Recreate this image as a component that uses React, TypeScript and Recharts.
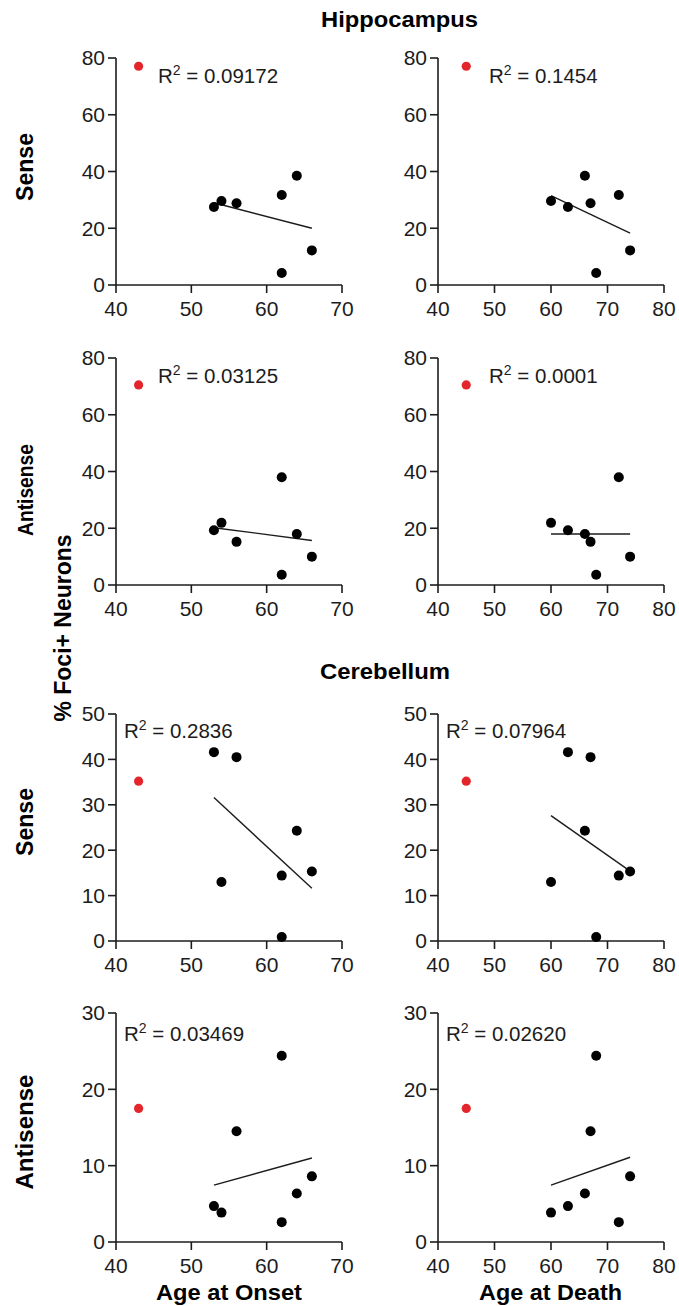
import { ScatterChart, Scatter, XAxis, YAxis, ReferenceLine } from "recharts"

const FONT = "'Liberation Sans', Arial, Helvetica, sans-serif"
const INK = "#1c1c1c"
const RED = "#e3262b"

// same seven patients, same order, in every panel
const onsetAge = [53, 54, 56, 62, 64, 66, 62]
const deathAge = [63, 60, 67, 72, 66, 74, 68]
// the excluded (red) patient
const outlierOnset = 43
const outlierDeath = 45

const hippoSense = [27.5, 29.6, 28.8, 31.7, 38.5, 12.2, 4.2]
const hippoAntisense = [19.3, 21.9, 15.2, 38.0, 18.0, 10.0, 3.6]
const cerebSense = [41.6, 13.0, 40.5, 14.4, 24.3, 15.3, 0.9]
const cerebAntisense = [4.7, 3.85, 14.5, 2.6, 6.35, 8.6, 24.4]
const outlierValues = [77.1, 70.5, 35.2, 17.5]

// regression line ends
const onsetFitX = [53, 66]
const deathFitX = [60, 74]
const onsetFitY = [[29.0, 20.0], [20.2, 15.7], [31.6, 11.6], [7.45, 11.0]]
const deathFitY = [[31.5, 18.3], [18.0, 18.0], [27.6, 15.4], [7.45, 11.1]]

const onsetR2 = ["0.09172", "0.03125", "0.2836", "0.03469"]
const deathR2 = ["0.1454", "0.0001", "0.07964", "0.02620"]

const onsetTicks = [40, 50, 60, 70]
const deathTicks = [40, 50, 60, 70, 80]
const rowYTicks = [
  [0, 20, 40, 60, 80],
  [0, 20, 40, 60, 80],
  [0, 10, 20, 30, 40, 50],
  [0, 10, 20, 30],
]

const rowValues = [hippoSense, hippoAntisense, cerebSense, cerebAntisense]

// layout (plot area boxes)
const rowTop = [58, 358, 714, 1013]
const rowHeight = [227, 227, 227, 229]
const colLeft = [116, 438]
const colWidth = 226
const r2Left = [[158, 124], [489, 446]]
const r2Base = [83, 383, 738, 1041]

const ML = 60
const MT = 20
const MR = 24
const XH = 44

const blackDot = (p: any) => <circle cx={p.cx} cy={p.cy} r={5} fill="#000" />
const redDot = (p: any) => <circle cx={p.cx} cy={p.cy} r={4.6} fill={RED} />

const tickStyle = { fill: INK, fontSize: 21, fontFamily: FONT }
const lineStyle = { stroke: INK, strokeWidth: 1.6 }

function Panel(props: {
  left: number
  top: number
  height: number
  xTicks: number[]
  yTicks: number[]
  points: { x: number; y: number }[]
  outlier: { x: number; y: number }[]
  fit: { x: number; y: number }[]
}) {
  const { left, top, height, xTicks, yTicks, points, outlier, fit } = props
  return (
    <div style={{ position: "absolute", left: left - ML, top: top - MT }}>
      <ScatterChart
        width={colWidth + ML + MR}
        height={height + MT + XH}
        margin={{ top: MT, right: MR, bottom: 0, left: 0 }}
      >
        <XAxis
          type="number"
          dataKey="x"
          domain={[xTicks[0], xTicks[xTicks.length - 1]]}
          ticks={xTicks}
          interval={0}
          height={XH}
          tick={tickStyle}
          tickLine={lineStyle}
          axisLine={lineStyle}
          tickSize={8}
          tickMargin={8}
        />
        <YAxis
          type="number"
          dataKey="y"
          domain={[0, yTicks[yTicks.length - 1]]}
          ticks={yTicks}
          interval={0}
          width={ML}
          tick={tickStyle}
          tickLine={lineStyle}
          axisLine={lineStyle}
          tickSize={8}
          tickMargin={3}
        />
        <ReferenceLine segment={fit} stroke={INK} strokeWidth={1.4} ifOverflow="visible" />
        <Scatter data={points} shape={blackDot} isAnimationActive={false} />
        <Scatter data={outlier} shape={redDot} isAnimationActive={false} />
      </ScatterChart>
    </div>
  )
}

function R2({ x, y, value }: { x: number; y: number; value: string }) {
  return (
    <text x={x} y={y} fontSize={20.5} fontFamily={FONT} fill={INK}>
      R
      <tspan fontSize={14} dy={-8}>2</tspan>
      <tspan dy={8}>{` = ${value}`}</tspan>
    </text>
  )
}

export default function App() {
  const panels = []
  for (let r = 0; r < 4; r++) {
    const vals = rowValues[r]
    for (let c = 0; c < 2; c++) {
      const ages = c === 0 ? onsetAge : deathAge
      const fx = c === 0 ? onsetFitX : deathFitX
      const fy = c === 0 ? onsetFitY[r] : deathFitY[r]
      panels.push(
        <Panel
          key={`${r}-${c}`}
          left={colLeft[c]}
          top={rowTop[r]}
          height={rowHeight[r]}
          xTicks={c === 0 ? onsetTicks : deathTicks}
          yTicks={rowYTicks[r]}
          points={ages.map((a, i) => ({ x: a, y: vals[i] }))}
          outlier={[{ x: c === 0 ? outlierOnset : outlierDeath, y: outlierValues[r] }]}
          fit={[{ x: fx[0], y: fy[0] }, { x: fx[1], y: fy[1] }]}
        />
      )
    }
  }

  const bold = { fontFamily: FONT, fontWeight: 700, fill: "#000" } as const

  return (
    <div
      style={{
        position: "absolute",
        left: 0,
        top: 0,
        width: 679,
        height: 1306,
        background: "#fff",
        overflow: "hidden",
      }}
    >
      {panels}
      <svg
        width={679}
        height={1306}
        style={{ position: "absolute", left: 0, top: 0, pointerEvents: "none" }}
      >
        <text x={321} y={27} fontSize={22} textLength={157} lengthAdjust="spacingAndGlyphs" {...bold}>
          Hippocampus
        </text>
        <text x={320} y={679} fontSize={22} textLength={130} lengthAdjust="spacingAndGlyphs" {...bold}>
          Cerebellum
        </text>

        <text transform="translate(33,167) rotate(-90)" textAnchor="middle" fontSize={23} textLength={68} lengthAdjust="spacingAndGlyphs" {...bold}>
          Sense
        </text>
        <text transform="translate(33,490) rotate(-90)" textAnchor="middle" fontSize={22.5} textLength={92} lengthAdjust="spacingAndGlyphs" {...bold}>
          Antisense
        </text>
        <text transform="translate(33,822) rotate(-90)" textAnchor="middle" fontSize={23} textLength={68} lengthAdjust="spacingAndGlyphs" {...bold}>
          Sense
        </text>
        <text transform="translate(33,1132) rotate(-90)" textAnchor="middle" fontSize={23} textLength={115} lengthAdjust="spacingAndGlyphs" {...bold}>
          Antisense
        </text>

        <text transform="translate(71,628) rotate(-90)" textAnchor="middle" fontSize={23} textLength={187} lengthAdjust="spacingAndGlyphs" {...bold}>
          % Foci+ Neurons
        </text>

        <text x={156} y={1300} fontSize={22} textLength={146} lengthAdjust="spacingAndGlyphs" {...bold}>
          Age at Onset
        </text>
        <text x={479} y={1300} fontSize={22} textLength={143} lengthAdjust="spacingAndGlyphs" {...bold}>
          Age at Death
        </text>

        {rowTop.map((_, r) => (
          <g key={r}>
            <R2 x={r2Left[0][r < 2 ? 0 : 1]} y={r2Base[r]} value={onsetR2[r]} />
            <R2 x={r2Left[1][r < 2 ? 0 : 1]} y={r2Base[r]} value={deathR2[r]} />
          </g>
        ))}
      </svg>
    </div>
  )
}
